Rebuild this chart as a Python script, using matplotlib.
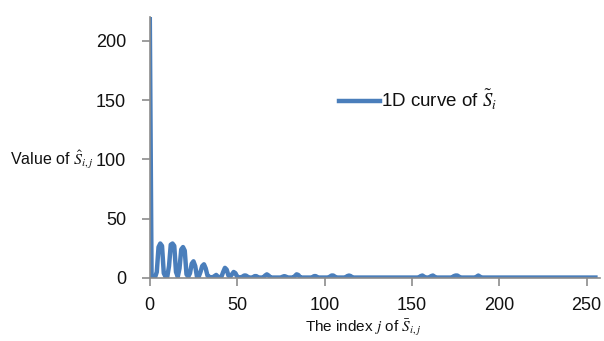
import matplotlib
matplotlib.use("Agg")
import matplotlib.pyplot as plt
import numpy as np

plt.rcParams['font.family'] = ['Liberation Sans', 'DejaVu Sans']
plt.rcParams['mathtext.fontset'] = 'stix'

# index j = 0..255
values = [
    220, 2, 0.5, 0.5, 5, 26, 29, 27, 4, 1,
    1, 10, 28, 29, 27, 5, 1, 8, 24, 26,
    23, 3, 1, 4, 12, 14, 10, 1, 1, 5,
    10, 11.5, 8, 2, 1, 0.5, 0.5, 1.5, 2.5, 1,
    0.5, 1, 5, 8.5, 7, 2, 1, 3, 5, 4,
    1, 0.5, 0.5, 1, 2, 2, 1, 0.3, 0.3, 0.5,
    1.5, 1.5, 0.5, 0.3, 0.3, 0.5, 2, 3, 2, 0.5,
    0.3, 0.3, 0.3, 0.3, 0.3, 0.3, 1, 1.5, 1, 0.3,
    0.3, 0.3, 0.3, 1.5, 3, 2.5, 0.5, 0.3, 0.3, 0.3,
    0.3, 0.3, 0.3, 0.5, 1.5, 1.5, 0.5, 0.3, 0.3, 0.3,
    0.3, 0.3, 0.3, 1, 2, 2, 1, 0.3, 0.3, 0.3,
    0.3, 0.3, 0.5, 1.5, 2, 1.5, 0.3, 0.3, 0.3, 0.3,
    0.3, 0.3, 0.3, 0.3, 0.3, 0.3, 0.3, 0.3, 0.3, 0.3,
    0.3, 0.3, 0.3, 0.3, 0.3, 0.3, 0.3, 0.3, 0.3, 0.3,
    0.3, 0.3, 0.3, 0.3, 0.3, 0.3, 0.3, 0.3, 0.3, 0.3,
    0.3, 0.3, 0.3, 0.3, 0.5, 1.5, 2, 1, 0.3, 0.3,
    0.5, 1.5, 2, 1, 0.3, 0.3, 0.3, 0.3, 0.3, 0.3,
    0.3, 0.3, 0.3, 0.5, 1.5, 2, 2, 1, 0.3, 0.3,
    0.3, 0.3, 0.3, 0.3, 0.3, 0.3, 0.3, 1, 2, 1,
    0.3, 0.3, 0.3, 0.3, 0.3, 0.3, 0.3, 0.3, 0.3, 0.3,
    0.3, 0.3, 0.3, 0.3, 0.3, 0.3, 0.3, 0.3, 0.3, 0.3,
    0.3, 0.3, 0.3, 0.3, 0.3, 0.3, 0.3, 0.3, 0.3, 0.3,
    0.3, 0.3, 0.3, 0.3, 0.3, 0.3, 0.3, 0.3, 0.3, 0.3,
    0.3, 0.3, 0.3, 0.3, 0.3, 0.3, 0.3, 0.3, 0.3, 0.3,
    0.3, 0.3, 0.3, 0.3, 0.3, 0.3, 0.3, 0.3, 0.3, 0.3,
    0.3, 0.3, 0.3, 0.3, 0.3, 0.3,
]
index = np.arange(len(values))

x_ticks = [0, 50, 100, 150, 200, 250]
y_ticks = [0, 50, 100, 150, 200]

fig = plt.figure(figsize=(6.04, 3.41), dpi=100)
ax = fig.add_axes([0.248, 0.185, 0.745, 0.765])

ax.plot(index, values, color='#4A7EBB', linewidth=3.2, solid_joinstyle='round',
        label=r'1D curve of $\tilde{S}_i$')

ax.set_xlim(0, 257.5)
ax.set_ylim(0, 220)
ax.set_xticks(x_ticks)
ax.set_yticks(y_ticks)

for s in ['top', 'right']:
    ax.spines[s].set_visible(False)
for s in ['left', 'bottom']:
    ax.spines[s].set_color('#8C8C8C')
    ax.spines[s].set_linewidth(1.2)
ax.tick_params(axis='both', direction='out', length=6, width=1.2, color='#8C8C8C',
               labelsize=13, labelcolor='#111111')
ax.tick_params(axis='y', pad=11)
ax.tick_params(axis='x', pad=8)

ax.set_xlabel(r'The index $j$ of $\bar{S}_{i,j}$', fontsize=11, color='#111111',
              va='center', ha='center')
ax.xaxis.set_label_coords(0.475, -0.19)
ax.set_ylabel(r'Value of $\hat{S}_{i,j}$', fontsize=11.5, color='#111111', rotation=0,
              ha='left', va='center')
ax.yaxis.set_label_coords(-0.311, 0.452)

leg = ax.legend(loc='upper left', bbox_to_anchor=(0.404, 0.757), frameon=False,
                fontsize=13.5, handlelength=2.2, handletextpad=0.05, borderaxespad=0)
for t in leg.get_texts():
    t.set_color('#111111')

fig.savefig('out.png', dpi=100)
